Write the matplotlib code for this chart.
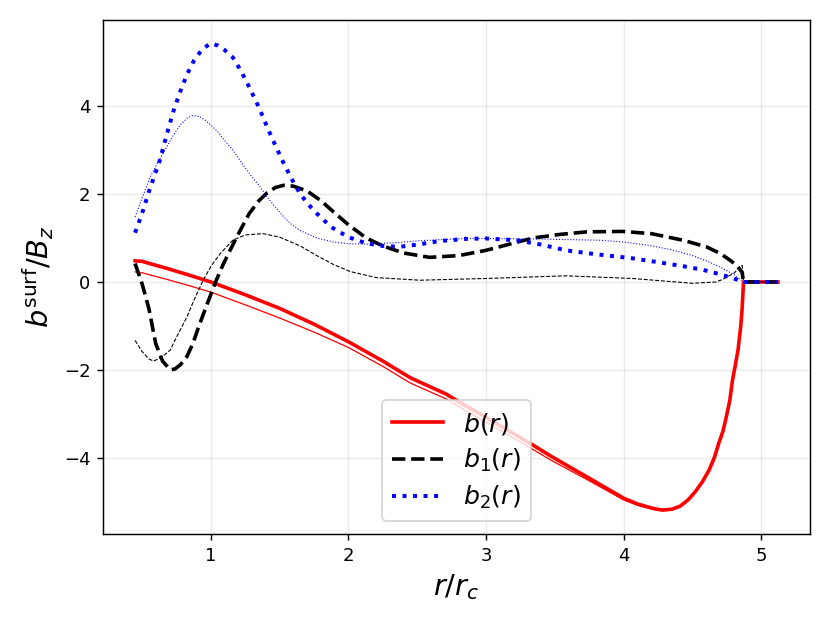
import matplotlib
matplotlib.use('Agg')
import matplotlib.pyplot as plt
import numpy as np

# b(r): thick (full) and thin (approx) versions
r_b = [0.45, 0.5, 0.68, 0.85, 1.0, 1.25, 1.5, 1.75, 2.0, 2.25, 2.45, 2.71, 2.81,
       3.0, 3.34, 3.48, 3.73, 4.0, 4.1, 4.21, 4.28, 4.35, 4.41, 4.47, 4.52, 4.57,
       4.62, 4.66, 4.69, 4.72, 4.74, 4.77, 4.79, 4.81, 4.83, 4.85, 4.86, 4.87, 5.12]
b_thick = [0.48, 0.47, 0.31, 0.15, 0.0, -0.29, -0.6, -0.96, -1.36, -1.8, -2.18, -2.55, -2.74,
           -3.08, -3.71, -3.98, -4.43, -4.92, -5.05, -5.15, -5.19, -5.17, -5.1, -4.95, -4.77, -4.55,
           -4.28, -3.98, -3.67, -3.4, -3.14, -2.7, -2.23, -1.9, -1.55, -1.0, -0.6, 0.0, 0.0]
b_thin = [0.23, 0.21, 0.06, -0.09, -0.23, -0.52, -0.82, -1.14, -1.49, -1.92, -2.3, -2.66, -2.85,
          -3.19, -3.81, -4.07, -4.49, -4.96, -5.08, -5.17, -5.2, -5.18, -5.11, -4.96, -4.78, -4.56,
          -4.29, -3.99, -3.68, -3.41, -3.15, -2.71, -2.24, -1.9, -1.56, -1.0, -0.6, 0.0, 0.0]

# b1(r)
r_b1 = [0.45, 0.5, 0.55, 0.6, 0.65, 0.705, 0.74, 0.78, 0.826, 0.87, 0.92, 0.98, 1.04,
        1.09, 1.14, 1.21, 1.28, 1.35, 1.41, 1.47, 1.53, 1.6, 1.7, 1.8, 1.89, 2.0,
        2.13, 2.25, 2.4, 2.59, 2.8, 3.0, 3.17, 3.34, 3.53, 3.73, 3.99, 4.2, 4.43,
        4.6, 4.7, 4.77, 4.82, 4.86, 4.87, 5.12]
b1_thick = [0.42, -0.03, -0.6, -1.4, -1.8, -2.0, -1.98, -1.88, -1.7, -1.4, -0.95, -0.45, 0.04,
            0.4, 0.72, 1.15, 1.56, 1.85, 2.03, 2.15, 2.2, 2.18, 2.07, 1.85, 1.6, 1.3,
            1.0, 0.82, 0.66, 0.56, 0.6, 0.72, 0.86, 1.0, 1.08, 1.14, 1.15, 1.1, 0.95,
            0.8, 0.65, 0.5, 0.38, 0.22, 0.0, 0.0]
r_b1t = [0.45, 0.5, 0.55, 0.584, 0.64, 0.705, 0.76, 0.826, 0.88, 0.945, 1.0, 1.07, 1.16,
         1.25, 1.38, 1.5, 1.65, 1.77, 1.89, 2.01, 2.2, 2.52, 3.0, 3.58, 4.06, 4.5,
         4.67, 4.72, 4.8, 4.86, 4.87, 5.12]
b1_thin = [-1.33, -1.58, -1.75, -1.8, -1.72, -1.55, -1.2, -0.8, -0.4, 0.04, 0.35, 0.65, 0.95,
           1.07, 1.1, 1.02, 0.82, 0.6, 0.4, 0.24, 0.1, 0.04, 0.08, 0.14, 0.08, -0.03,
           0.0, 0.06, 0.2, 0.38, 0.0, 0.0]

# b2(r)
r_b2 = [0.45, 0.5, 0.55, 0.63, 0.68, 0.73, 0.78, 0.83, 0.88, 0.94, 1.0, 1.05, 1.1, 1.16,
        1.22, 1.28, 1.35, 1.41, 1.47, 1.53, 1.59, 1.65, 1.71, 1.77, 1.83, 1.89, 2.0,
        2.13, 2.25, 2.37, 2.5, 2.66, 2.85, 3.0, 3.22, 3.4, 3.58, 3.8, 4.06, 4.25,
        4.43, 4.57, 4.67, 4.78, 4.87, 5.12]
b2_thick = [1.12, 1.55, 2.05, 2.77, 3.35, 3.9, 4.35, 4.74, 5.05, 5.3, 5.43, 5.38, 5.28, 5.11,
            4.8, 4.43, 3.97, 3.52, 3.1, 2.7, 2.33, 2.0, 1.76, 1.56, 1.38, 1.22, 1.02,
            0.88, 0.82, 0.8, 0.85, 0.93, 0.98, 0.99, 0.95, 0.85, 0.72, 0.63, 0.54, 0.45,
            0.36, 0.28, 0.2, 0.1, 0.0, 0.0]
r_b2t = [0.45, 0.5, 0.56, 0.62, 0.68, 0.73, 0.78, 0.83, 0.87, 0.92, 0.96, 1.0, 1.05, 1.1,
         1.16, 1.22, 1.28, 1.35, 1.41, 1.47, 1.53, 1.59, 1.65, 1.77, 1.89, 2.0, 2.13,
         2.37, 2.52, 2.86, 3.34, 3.82, 4.0, 4.19, 4.35, 4.5, 4.6, 4.7, 4.8, 4.87, 5.12]
b2_thin = [1.48, 1.9, 2.39, 2.75, 3.07, 3.35, 3.58, 3.73, 3.79, 3.76, 3.68, 3.57, 3.42, 3.22,
           3.0, 2.73, 2.47, 2.2, 1.93, 1.7, 1.48, 1.3, 1.17, 1.0, 0.91, 0.87, 0.86,
           0.9, 0.94, 0.99, 0.98, 0.95, 0.91, 0.83, 0.73, 0.6, 0.48, 0.34, 0.17, 0.0, 0.0]

fig = plt.figure(figsize=(830 / 130, 623 / 130), dpi=130)
ax = fig.add_axes([0.124, 0.143, 0.852, 0.825])

ax.plot(r_b, b_thick, c='red', lw=2, label=r'$b(r)$')
ax.plot(r_b, b_thin, c='red', lw=0.7)
ax.plot(r_b1, b1_thick, c='black', lw=2, ls='--', label=r'$b_1(r)$')
ax.plot(r_b1t, b1_thin, c='black', lw=0.6, ls='--')
ax.plot(r_b2, b2_thick, c='blue', lw=2.2, ls=':', label=r'$b_2(r)$')
ax.plot(r_b2t, b2_thin, c='blue', lw=0.6, ls=':')

ax.grid(True, alpha=0.25)
ax.set_xticks([1, 2, 3, 4, 5])
ax.set_yticks([-4, -2, 0, 2, 4])
ax.set_xlabel(r'$r/r_c$', fontsize=16)
ax.set_ylabel(r'$b^{\rm surf}/B_z$', fontsize=16)
ax.legend(loc='lower center', fontsize=14, labelspacing=0.4)

fig.savefig('out.png', dpi=130)
